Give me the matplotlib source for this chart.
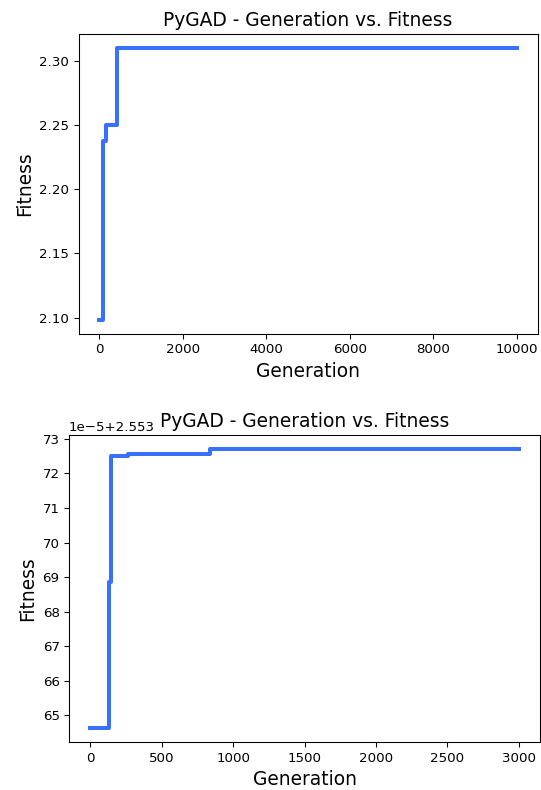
import numpy as np
import matplotlib
matplotlib.use("Agg")
import matplotlib.pyplot as plt

# top run: best fitness per generation (step changes only)
gen_top = [0, 96, 153, 430, 10000]
fit_top = [2.098, 2.2378, 2.2495, 2.3098, 2.3098]

# bottom run: values shown as 1e-5 offsets above 2.553
gen_bot = [0, 130, 144, 265, 840, 3000]
fit_bot_e5 = [64.62, 68.86, 72.50, 72.55, 72.71, 72.71]
base_bot = 2.553

LINE_COLOR = "#3870FF"
DPI = 96
W, H = 541, 790

fig = plt.figure(figsize=(W / DPI, H / DPI), dpi=DPI)

ax1 = fig.add_axes([78.5 / W, (H - 334) / H, 459 / W, 299.7 / H])
ax1.plot(gen_top, fit_top, drawstyle="steps-post", lw=3, color=LINE_COLOR)
ax1.set_title("PyGAD - Generation vs. Fitness", fontsize=14)
ax1.set_xlabel("Generation", fontsize=14)
ax1.set_ylabel("Fitness", fontsize=14)

ax2 = fig.add_axes([69 / W, (H - 742.3) / H, 471 / W, 307.3 / H])
fit_bot = base_bot + np.array(fit_bot_e5) * 1e-5
ax2.plot(gen_bot, fit_bot, drawstyle="steps-post", lw=3, color=LINE_COLOR)
ax2.set_title("PyGAD - Generation vs. Fitness", fontsize=14)
ax2.set_xlabel("Generation", fontsize=14)
ax2.set_ylabel("Fitness", fontsize=14)

fig.savefig("out.png", dpi=DPI)
